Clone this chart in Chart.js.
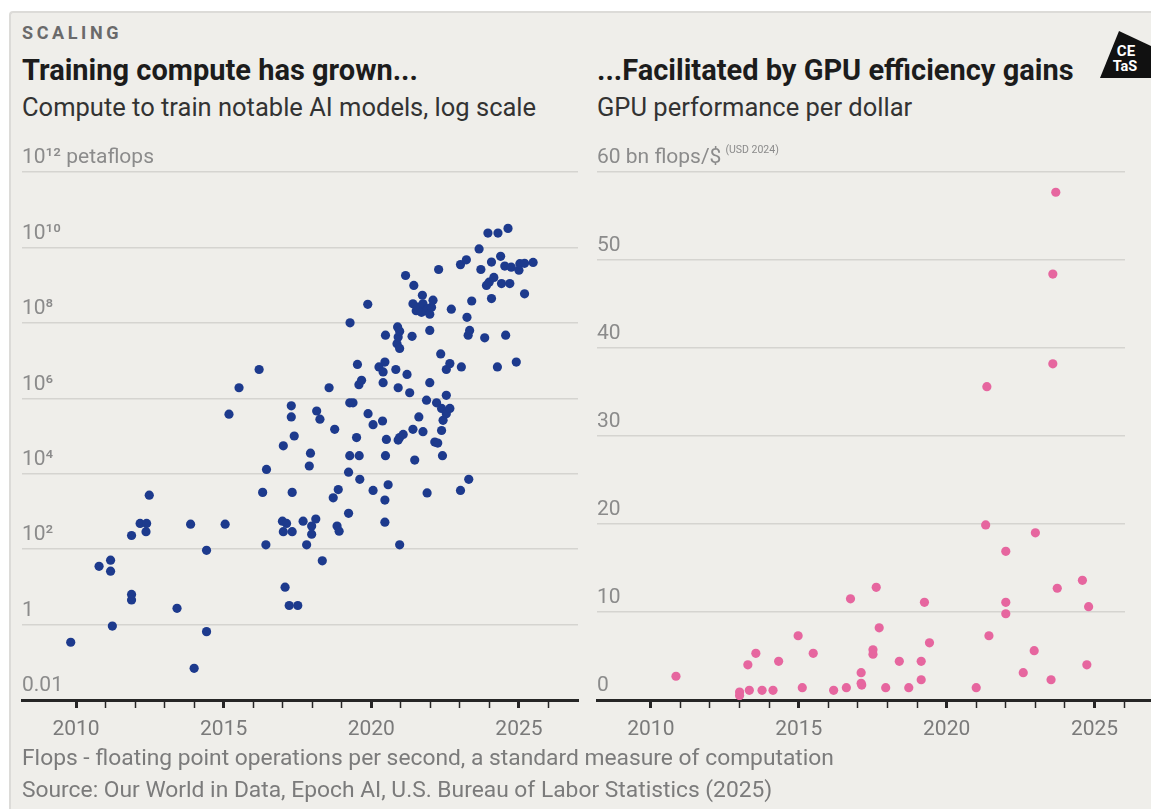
<!DOCTYPE html>
<html>
<head>
<meta charset="utf-8">
<script src="https://cdn.jsdelivr.net/npm/chart.js@4.4.1/dist/chart.umd.min.js"></script>
<style>
  html, body { margin: 0; padding: 0; background: #fff; }
  body { width: 1151px; height: 809px; position: relative; overflow: hidden; font-family: Roboto, "Liberation Sans", sans-serif; }
  .card { position: absolute; left: 9px; top: 11px; right: 0; bottom: 0; background: #efeeea; border-top: 2px solid #dcdbd8; border-left: 2px solid #dcdbd8; border-top-left-radius: 4px; }
  .txt { position: absolute; white-space: nowrap; }
  .kicker { left: 22px; top: 23px; font-size: 18px; line-height: 20px; font-weight: 700; letter-spacing: 3.6px; color: #6a6a6a; }
  .title { top: 54px; font-size: 29px; line-height: 32px; font-weight: 700; color: #1c1c1c; }
  .sub { top: 92px; font-size: 25.5px; line-height: 30px; color: #333; }
  .note { left: 22px; font-size: 22.8px; line-height: 26px; color: #7b7b7b; }
  canvas { position: absolute; }
  #logo { position: absolute; left: 1095px; top: 25px; }
</style>
</head>
<body>
<div class="card"></div>
<div class="txt kicker">SCALING</div>
<div class="txt title" style="left:22px">Training compute has grown...</div>
<div class="txt sub" style="left:22px">Compute to train notable AI models, log scale</div>
<div class="txt title" style="left:597px">...Facilitated by GPU efficiency gains</div>
<div class="txt sub" style="left:597px">GPU performance per dollar</div>

<svg id="logo" width="56" height="58" viewBox="0 0 56 58">
  <polygon points="24,6 56,21 56,53 5,53" fill="#111"/>
  <text x="31" y="31" fill="#fff" font-family="Roboto, sans-serif" font-weight="700" font-size="15" text-anchor="middle">CE</text>
  <text x="30" y="46" fill="#fff" font-family="Roboto, sans-serif" font-weight="700" font-size="14.5" text-anchor="middle">TaS</text>
</svg>

<canvas id="computeChart" width="595" height="640" style="left:0;top:130px"></canvas>
<canvas id="gpuChart" width="571" height="640" style="left:580px;top:130px"></canvas>

<div class="txt note" style="top:745px">Flops - floating point operations per second, a standard measure of computation</div>
<div class="txt note" style="top:777px">Source: Our World in Data, Epoch AI, U.S. Bureau of Labor Statistics (2025)</div>

<script>
// Training compute of notable AI models (petaflops) by publication year
const computeYears = [
  2009.82, 2010.78, 2011.17, 2011.17, 2011.23, 2011.88, 2011.88, 2011.88, 2012.17, 2012.39,
  2012.37, 2012.48, 2013.42, 2013.88, 2014.00, 2014.42, 2014.42, 2015.05, 2015.18, 2015.52,
  2016.20, 2016.32, 2016.43, 2016.45, 2016.99, 2017.02, 2017.02, 2017.08, 2017.13, 2017.22,
  2017.29, 2017.29, 2017.32, 2017.32, 2017.39, 2017.51, 2017.69, 2017.81, 2017.90, 2017.94,
  2017.98, 2017.98, 2018.12, 2018.15, 2018.26, 2018.34, 2018.57, 2018.71, 2018.76, 2018.84,
  2018.88, 2018.91, 2019.23, 2019.23, 2019.27, 2019.27, 2019.28, 2019.38, 2019.50, 2019.53,
  2019.58, 2019.59, 2019.61, 2019.67, 2019.88, 2019.89, 2020.06, 2020.06, 2020.26, 2020.38,
  2020.40, 2020.40, 2020.46, 2020.46, 2020.46, 2020.48, 2020.48, 2020.51, 2020.57, 2020.83,
  2020.87, 2020.89, 2020.91, 2020.91, 2020.91, 2020.96, 2020.96, 2020.96, 2020.96, 2021.08,
  2021.16, 2021.21, 2021.30, 2021.38, 2021.41, 2021.41, 2021.44, 2021.47, 2021.52, 2021.58,
  2021.61, 2021.70, 2021.73, 2021.75, 2021.75, 2021.87, 2021.87, 2021.89, 2021.92, 2021.98,
  2021.98, 2021.98, 2022.04, 2022.09, 2022.15, 2022.21, 2022.25, 2022.28, 2022.35, 2022.38,
  2022.38, 2022.41, 2022.43, 2022.54, 2022.54, 2022.54, 2022.66, 2022.66, 2022.71, 2023.02,
  2023.02, 2023.05, 2023.22, 2023.24, 2023.28, 2023.30, 2023.33, 2023.40, 2023.65, 2023.71,
  2023.84, 2023.90, 2023.95, 2023.99, 2024.07, 2024.07, 2024.15, 2024.27, 2024.29, 2024.38,
  2024.41, 2024.52, 2024.55, 2024.63, 2024.69, 2024.74, 2024.91, 2025.00, 2025.03, 2025.19,
  2025.19, 2025.48
];
const computeValues = [
  0.34, 35, 51, 26, 0.91, 230, 6.3, 4.5, 480, 480,
  290, 2700, 2.7, 460, 0.069, 93, 0.65, 460, 3.8e5, 1.9e6,
  5.8e6, 3200, 130, 1.3e4, 550, 290, 5.5e4, 9.8, 480, 3.2,
  6.3e5, 3.2e5, 3200, 290, 1.0e5, 3.2, 550, 130, 1.6e4, 3.5e4,
  410, 250, 630, 4.6e5, 2.8e5, 49, 1.9e6, 2300, 1.5e5, 410,
  3800, 300, 1.1e4, 890, 7.6e5, 3.0e4, 1.0e8, 7.6e5, 9.1e4, 7.9e6,
  2.3e6, 3.0e4, 7100, 3.0e6, 3.1e8, 3.9e5, 2.0e5, 3600, 6.8e6, 2.5e5,
  5.0e6, 2.6e6, 9.1e6, 2000, 520, 4.7e7, 3.0e4, 8.1e4, 5100, 5.8e6,
  2.8e7, 7.8e7, 4.2e7, 1.9e6, 7.8e4, 6.0e7, 2.1e7, 9.1e4, 130, 1.1e5,
  1.8e9, 4.3e6, 1.4e6, 4.4e7, 3.2e8, 1.5e5, 9.8e8, 2.3e4, 2.1e8, 2.6e8,
  3.2e5, 1.9e8, 5.4e8, 3.2e8, 1.3e5, 2.1e8, 8.9e5, 3100, 2.4e8, 1.7e8,
  6.3e7, 2.6e6, 2.6e8, 4.0e8, 6.9e4, 7.6e5, 6.5e4, 2.6e9, 1.5e7, 5.4e5,
  1.4e5, 3.0e4, 2.6e5, 5.8e6, 1.2e6, 3.9e5, 8.3e6, 5.4e5, 2.3e8, 3.5e9,
  3600, 6.8e6, 4.7e9, 1.4e8, 4.7e7, 7100, 6.3e7, 3.8e8, 9.1e9, 2.6e9,
  4.0e7, 9.8e8, 2.4e10, 1.2e9, 4.1e9, 4.4e8, 1.6e9, 6.8e6, 2.4e10, 5.8e9,
  1.1e9, 3.2e9, 4.7e7, 3.2e10, 1.1e9, 3.0e9, 9.1e6, 2.5e9, 3.7e9, 3.8e9,
  5.9e8, 4.0e9
];
const computeTicks = [0.01, 1, 1e2, 1e4, 1e6, 1e8, 1e10, 1e12];
const computeTickLabels = ['0.01', '1', '10²', '10⁴', '10⁶', '10⁸', '10¹⁰', '10¹² petaflops'];

// GPU performance per dollar (bn flops per 2024 US dollar) by release year
const gpuYears = [
  2010.85, 2013.00, 2013.00, 2013.28, 2013.33, 2013.55, 2013.76, 2014.13, 2014.32, 2014.98,
  2015.12, 2015.49, 2016.18, 2016.61, 2016.75, 2017.11, 2017.11, 2017.13, 2017.51, 2017.51,
  2017.62, 2017.72, 2017.94, 2018.40, 2018.72, 2019.14, 2019.14, 2019.25, 2019.42, 2021.00,
  2021.32, 2021.36, 2021.43, 2022.00, 2022.00, 2022.00, 2022.59, 2022.96, 2023.00, 2023.53,
  2023.59, 2023.59, 2023.69, 2023.74, 2024.59, 2024.74, 2024.80
];
const gpuValues = [
  2.7, 0.9, 0.5, 4.0, 1.1, 5.3, 1.1, 1.1, 4.4, 7.3,
  1.4, 5.3, 1.1, 1.4, 11.5, 3.1, 1.9, 1.7, 5.7, 5.2,
  12.8, 8.2, 1.4, 4.4, 1.4, 4.4, 2.3, 11.1, 6.5, 1.4,
  19.9, 35.6, 7.3, 16.9, 11.1, 9.8, 3.1, 5.6, 19.0, 2.3,
  38.2, 48.4, 57.7, 12.7, 13.6, 4.0, 10.6
];
const gpuTicks = [0, 10, 20, 30, 40, 50, 60];
const gpuTickLabels = ['0', '10', '20', '30', '40', '50', '60 bn flops/$'];
const gpuUnitNote = '(USD 2024)';

const yearTicks = [2010, 2011, 2012, 2013, 2014, 2015, 2016, 2017, 2018,
                   2019, 2020, 2021, 2022, 2023, 2024, 2025, 2026];
const yearLabels = [2010, 2015, 2020, 2025];

const fontFamily = 'Roboto, "Liberation Sans", sans-serif';
Chart.defaults.font.family = fontFamily;
Chart.defaults.animation = false;

const tickFont = { size: 21 };
const axisInk = '#262626';
const gridInk = '#d5d4d0';

function yearAxis(min, max) {
  return {
    type: 'linear',
    min, max,
    afterBuildTicks: s => { s.ticks = yearTicks.map(v => ({ value: v })); },
    afterFit: s => { s.height = 50; },
    ticks: {
      autoSkip: false, maxRotation: 0, padding: 9, color: '#7a7a7a', font: tickFont,
      callback: v => yearLabels.includes(v) ? String(v) : ''
    },
    grid: {
      drawOnChartArea: false, drawTicks: true, tickLength: 8, tickColor: axisInk,
      tickWidth: c => (c.tick && yearLabels.includes(c.tick.value)) ? 3 : 1.5
    },
    border: { display: true, color: axisInk, width: 3 }
  };
}

function valueAxis(type, min, max, ticks, labels) {
  return {
    type,
    min, max,
    afterBuildTicks: s => { s.ticks = ticks.map(v => ({ value: v })); },
    ticks: {
      mirror: true, padding: 0, labelOffset: -14, color: '#8b8b8b', font: tickFont,
      callback: (v, i) => labels[i]
    },
    grid: {
      drawTicks: false, lineWidth: 1.5,
      // the bottom line sits under the black baseline
      color: c => c.index === 0 ? 'rgba(0,0,0,0)' : gridInk
    },
    border: { display: false }
  };
}

function scatterData(xs, ys) {
  return xs.map((x, i) => ({ x, y: ys[i] }));
}

const baseOptions = {
  responsive: false,
  plugins: { legend: { display: false }, tooltip: { enabled: false } },
  elements: { point: { radius: 4.6, hoverRadius: 4.6, borderWidth: 0 } }
};

new Chart(document.getElementById('computeChart'), {
  type: 'scatter',
  data: {
    datasets: [{
      data: scatterData(computeYears, computeValues),
      backgroundColor: '#1d3a8d'
    }]
  },
  options: {
    ...baseOptions,
    layout: { padding: { left: 22, right: 17, top: 42, bottom: 20 } },
    scales: {
      x: yearAxis(2008.17, 2027),
      y: valueAxis('logarithmic', 0.01, 1e12, computeTicks, computeTickLabels)
    }
  }
});

// GPU panel: baseline runs on to the card edge, unit note sits as a superscript
const gpuExtras = {
  id: 'gpuExtras',
  afterDraw(chart) {
    const { ctx, chartArea, scales: { x, y } } = chart;
    ctx.save();
    const by = Math.floor(x.top) + 0.5;
    ctx.strokeStyle = axisInk;
    ctx.lineWidth = 3;
    ctx.beginPath();
    ctx.moveTo(chartArea.right, by);
    ctx.lineTo(chart.width, by);
    ctx.stroke();

    ctx.font = `${tickFont.size}px ${fontFamily}`;
    const w = ctx.measureText(gpuTickLabels[gpuTickLabels.length - 1]).width;
    ctx.font = `10.5px ${fontFamily}`;
    ctx.fillStyle = '#8b8b8b';
    ctx.textBaseline = 'middle';
    ctx.textAlign = 'left';
    ctx.fillText(gpuUnitNote, chartArea.left + w + 4, y.getPixelForValue(60) - 22);
    ctx.restore();
  }
};

new Chart(document.getElementById('gpuChart'), {
  type: 'scatter',
  data: {
    datasets: [{
      data: scatterData(gpuYears, gpuValues),
      backgroundColor: '#e6669f'
    }]
  },
  options: {
    ...baseOptions,
    layout: { padding: { left: 17, right: 26, top: 42, bottom: 20 } },
    scales: {
      x: yearAxis(2008.18, 2026.03),
      y: valueAxis('linear', 0, 60, gpuTicks, gpuTickLabels)
    }
  },
  plugins: [gpuExtras]
});
</script>
</body>
</html>
